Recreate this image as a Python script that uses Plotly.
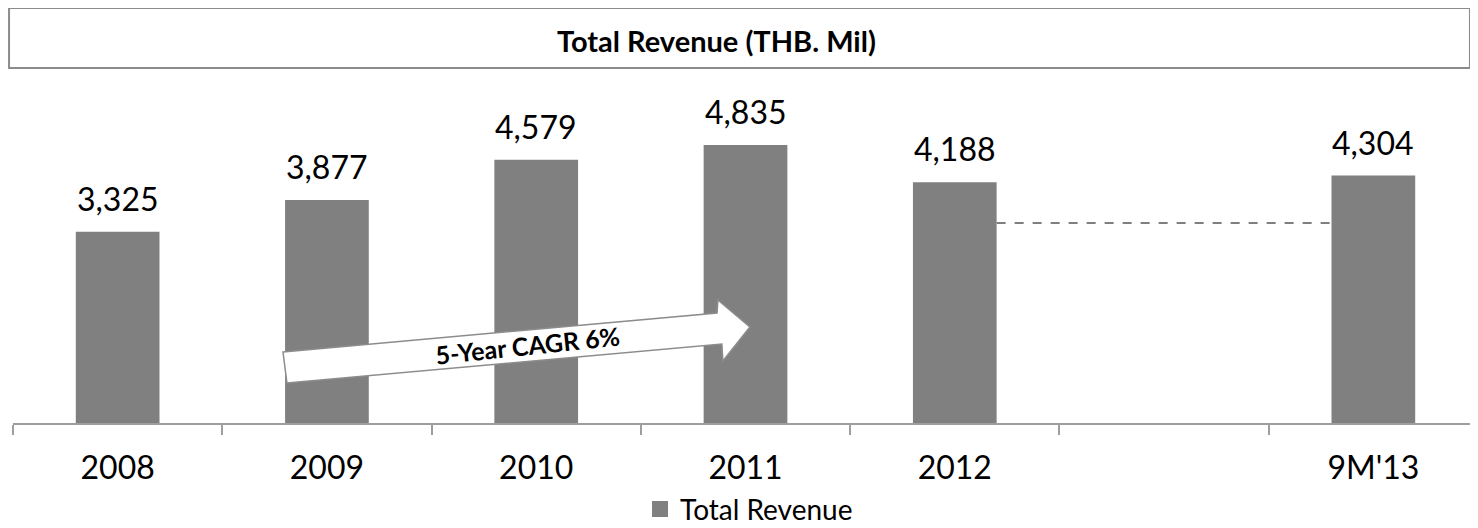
import plotly.graph_objects as go

categories = ["2008", "2009", "2010", "2011", "2012", "", "9M'13"]
revenue = [3325, 3877, 4579, 4835, 4188, None, 4304]
labels = ["3,325", "3,877", "4,579", "4,835", "4,188", "", "4,304"]
prior_period_level = 3480  # dashed reference between 2012 and 9M'13
cagr_text = "5-Year CAGR 6%"

FONT = "Lato"
BAR = "#808080"
GREY = "#9e9e9e"

x_pos = list(range(len(categories)))

fig = go.Figure()
fig.add_trace(
    go.Bar(
        x=x_pos,
        y=revenue,
        name="Total Revenue",
        marker=dict(color=BAR, line=dict(width=0)),
        width=0.4,
        showlegend=False,
    )
)
# legend entry with a bigger square swatch
fig.add_trace(
    go.Scatter(
        x=[None], y=[None], mode="markers", name="Total Revenue",
        marker=dict(symbol="square", size=18, color=BAR),
    )
)

# value labels, lifted a bit above the bars
for x, v, lab in zip(x_pos, revenue, labels):
    if v is None:
        continue
    fig.add_annotation(
        x=x, y=v, xref="x", yref="y", text=lab, showarrow=False,
        xanchor="center", yanchor="bottom", yshift=12,
        font=dict(size=32, color="black", family=FONT),
    )

# dashed line from 2012 bar to 9M'13 bar
fig.add_shape(
    type="line", xref="x", yref="y",
    x0=4.2, x1=5.8, y0=prior_period_level, y1=prior_period_level,
    line=dict(color="#7f7f7f", width=2, dash="dash"),
)

# CAGR arrow
arrow = [(0.790, 1235), (2.864, 1913), (2.868, 2139), (3.021, 1670),
         (2.892, 1078), (2.887, 1374), (0.809, 696)]
path = "M " + " L ".join(f"{x},{y}" for x, y in arrow) + " Z"
fig.add_shape(
    type="path", xref="x", yref="y", path=path,
    fillcolor="white", line=dict(color="#8c8c8c", width=1.5),
)
fig.add_annotation(
    x=1.96, y=1357, xref="x", yref="y", text=f"<b>{cagr_text}</b>",
    showarrow=False, textangle=-6, xanchor="center", yanchor="middle",
    font=dict(size=25, color="black", family=FONT),
)

# title box
fig.add_shape(
    type="rect", xref="paper", yref="paper",
    x0=-0.0027, x1=0.9945, y0=1.029, y1=1.203,
    fillcolor="white", line=dict(color="#8c8c8c", width=2),
)
fig.add_annotation(
    x=0.48, y=1.110, xref="paper", yref="paper",
    xanchor="center", yanchor="middle",
    text="<b>Total Revenue (THB. Mil)</b>", showarrow=False,
    font=dict(size=29, color="black", family=FONT),
)

# page body adds an 8px offset, so the figure is 8px smaller
fig.update_layout(
    width=1470,
    height=520,
    margin=dict(l=5, r=0, t=70, b=105, autoexpand=False),
    plot_bgcolor="white",
    paper_bgcolor="white",
    font=dict(family=FONT, color="black"),
    bargap=0.6,
    legend=dict(
        orientation="h", x=0.428, xanchor="left", y=-0.25, yanchor="middle",
        font=dict(size=28, color="black", family=FONT),
        borderwidth=0, bgcolor="rgba(0,0,0,0)",
    ),
    xaxis=dict(
        range=[-0.5, 6.5],
        tickvals=x_pos,
        ticktext=categories,
        ticks="",
        showgrid=False,
        zeroline=False,
        showline=True,
        linecolor=GREY,
        linewidth=1.5,
        tickfont=dict(size=32, color="black", family=FONT),
        ticklabelstandoff=16,
        minor=dict(
            tickvals=[i - 0.5 for i in range(len(categories) + 1)],
            ticks="outside", ticklen=10, tickcolor=GREY, tickwidth=1.5,
        ),
    ),
    yaxis=dict(
        range=[0, 6000],
        visible=False,
        showgrid=False,
        zeroline=False,
    ),
)

fig.write_html("out.html")
